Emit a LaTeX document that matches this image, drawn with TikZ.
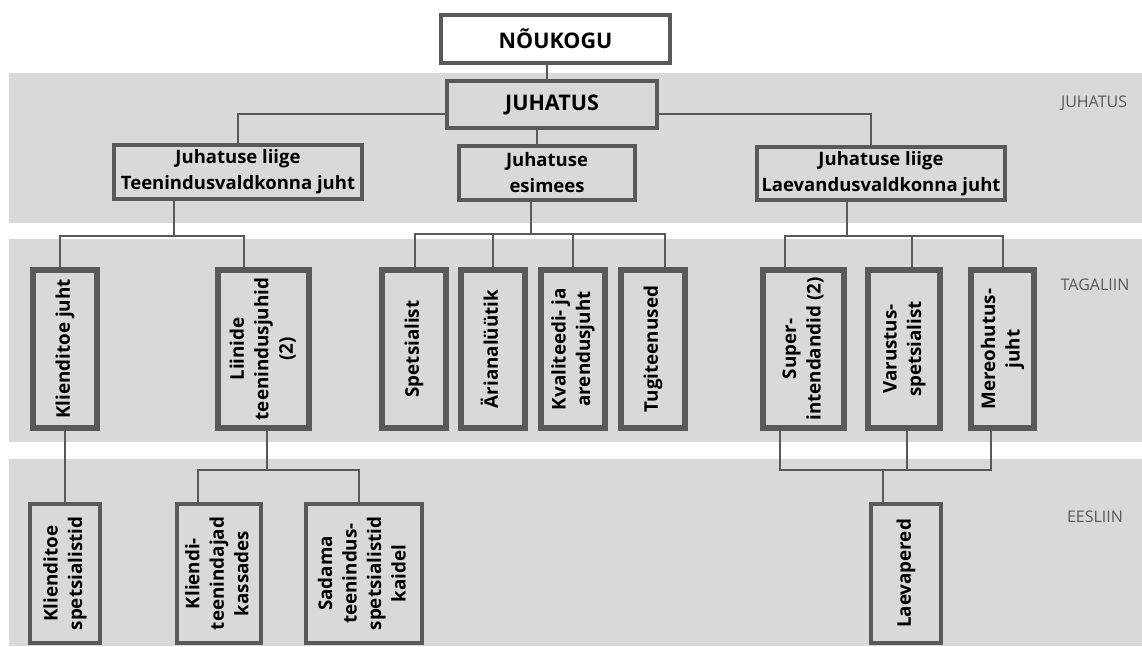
\documentclass[tikz,border=0pt]{standalone}
\usepackage{fontspec}
\setmainfont{Open Sans}
\usepackage{graphicx}
\usetikzlibrary{calc}
\definecolor{bandc}{HTML}{D9D9D9}
\definecolor{linec}{HTML}{595959}
\definecolor{tierc}{HTML}{595959}
% rotated, centred multi-line label for the tall boxes
\newcommand{\vtext}[1]{\rotatebox{90}{\begin{tabular}{@{}c@{}}#1\end{tabular}}}

\begin{document}
\begin{tikzpicture}[x=1pt,y=-1pt,
  box/.style={draw=linec, fill=bandc, inner sep=0pt, align=center, text=black},
  upper/.style={box, line width=4pt, font=\bfseries\fontsize{18.5}{26}\selectfont},
  headbox/.style={box, line width=4pt, font=\bfseries\fontsize{21.5}{26}\selectfont},
  mid/.style={box, line width=6pt, font=\bfseries\fontsize{18.8}{24.5}\selectfont},
  low/.style={box, line width=4pt, font=\bfseries\fontsize{18.8}{24.5}\selectfont},
  conn/.style={draw=linec, line width=2pt},
  tier/.style={text=tierc, font=\fontsize{16}{18}\selectfont}]

\useasboundingbox (0,0) rectangle (1142,646);

% level bands
\fill[bandc] (9,73) rectangle (1142,223);
\fill[bandc] (9,239) rectangle (1142,442);
\fill[bandc] (9,459) rectangle (1142,646);

% level names
\node[tier] (lj) at (1094,103) {JUHATUS};
\node[tier] (lt) at (1095,285) {TAGALIIN};
\node[tier] (le) at (1095,517) {EESLIIN};

% board
\node[headbox, fill=white, minimum width=229pt, minimum height=48pt] (nou) at (555.5,39) {NÕUKOGU};
\node[headbox, minimum width=210pt, minimum height=47pt] (juh) at (552,104.5) {JUHATUS};
\node[upper, minimum width=248pt, minimum height=54pt] (tee) at (238,172) {Juhatuse liige\\Teenindusvaldkonna juht};
\node[upper, minimum width=176pt, minimum height=54pt] (esi) at (547,173) {Juhatuse\\esimees};
\node[upper, minimum width=248pt, minimum height=53pt] (lae) at (881,173.5) {Juhatuse liige\\Laevandusvaldkonna juht};

% back line
\node[mid, minimum width=64pt, minimum height=158pt] (kj) at (65,349) {\vtext{Klienditoe juht}};
\node[mid, minimum width=91pt, minimum height=158pt] (lii) at (263.5,349) {\vtext{Liinide\\teenindusjuhid\\(2)}};
\node[mid, minimum width=64pt, minimum height=158pt] (spe) at (414,349) {\vtext{Spetsialist}};
\node[mid, minimum width=64pt, minimum height=158pt] (ari) at (493,349) {\vtext{Ärianalüütik}};
\node[mid, minimum width=64pt, minimum height=158pt] (kva) at (573,349) {\vtext{Kvaliteedi- ja\\arendusjuht}};
\node[mid, minimum width=64pt, minimum height=158pt] (tug) at (653,349) {\vtext{Tugiteenused}};
\node[mid, minimum width=81pt, minimum height=158pt] (sup) at (803.5,349) {\vtext{Super-\\intendandid (2)}};
\node[mid, minimum width=72pt, minimum height=158pt] (var) at (904,349) {\vtext{Varustus-\\spetsialist}};
\node[mid, minimum width=63pt, minimum height=158pt] (mer) at (1002.5,349) {\vtext{Mereohutus-\\juht}};

% front line
\node[low, minimum width=70pt, minimum height=139pt] (ks) at (65,573.5) {\vtext{Klienditoe\\spetsialistid}};
\node[low, minimum width=84pt, minimum height=139pt] (kt) at (219,573.5) {\vtext{Kliendi-\\teenindajad\\kassades}};
\node[low, minimum width=116pt, minimum height=139pt] (sad) at (364,573.5) {\vtext{Sadama\\teenindus-\\spetsialistid\\kaidel}};
\node[low, minimum width=70pt, minimum height=139pt] (lp) at (906,573.5) {\vtext{Laevapered}};

% rails of the connectors
\coordinate (xNJ) at (547,0);
\coordinate (xJE) at (537,0);
\coordinate (yJ) at (0,114);
\coordinate (xJL) at (871,0);
\coordinate (xT) at (174,0);
\coordinate (yT) at (0,236);
\coordinate (xKJ) at (60,0);
\coordinate (xLI) at (244,0);
\coordinate (xE) at (531,0);
\coordinate (yE) at (0,234);
\coordinate (xSP) at (415,0);
\coordinate (xAR) at (493,0);
\coordinate (xKV) at (573,0);
\coordinate (xTU) at (665,0);
\coordinate (xL) at (847,0);
\coordinate (xSU) at (785,0);
\coordinate (xVA) at (912,0);
\coordinate (xME) at (1003,0);
\coordinate (xKS) at (65,0);
\coordinate (xLS) at (267,0);
\coordinate (yF) at (0,470);
\coordinate (xKT) at (198,0);
\coordinate (xSA) at (359,0);
\coordinate (xSUb) at (780,0);
\coordinate (xVAb) at (907,0);
\coordinate (xMEb) at (991,0);
\coordinate (xLP) at (883,0);

% connectors
\draw[conn] (xNJ |- nou.south) -- (xNJ |- juh.north);
\draw[conn] (juh.west |- yJ) -| (tee.north);
\draw[conn] (xJE |- juh.south) -- (xJE |- esi.north);
\draw[conn] (juh.east |- yJ) -| (xJL |- lae.north);

\draw[conn] (xT |- tee.south) -- (xT |- yT);
\draw[conn] (xKJ |- kj.north) |- (xLI |- yT) -- (xLI |- lii.north);

\draw[conn] (xE |- esi.south) -- (xE |- yE);
\draw[conn] (xSP |- spe.north) |- (xTU |- yE) -- (xTU |- tug.north);
\draw[conn] (xAR |- yE) -- (xAR |- ari.north);
\draw[conn] (xKV |- yE) -- (xKV |- kva.north);

\draw[conn] (xL |- lae.south) -- (xL |- yT);
\draw[conn] (xSU |- sup.north) |- (xME |- yT) -- (xME |- mer.north);
\draw[conn] (xVA |- yT) -- (xVA |- var.north);

\draw[conn] (xKS |- kj.south) -- (xKS |- ks.north);
\draw[conn] (xLS |- lii.south) -- (xLS |- yF);
\draw[conn] (xKT |- kt.north) |- (xSA |- yF) -- (xSA |- sad.north);

\draw[conn] (xSUb |- sup.south) |- (xMEb |- yF) -- (xMEb |- mer.south);
\draw[conn] (xVAb |- var.south) -- (xVAb |- yF);
\draw[conn] (xLP |- yF) -- (xLP |- lp.north);
\end{tikzpicture}
\end{document}
